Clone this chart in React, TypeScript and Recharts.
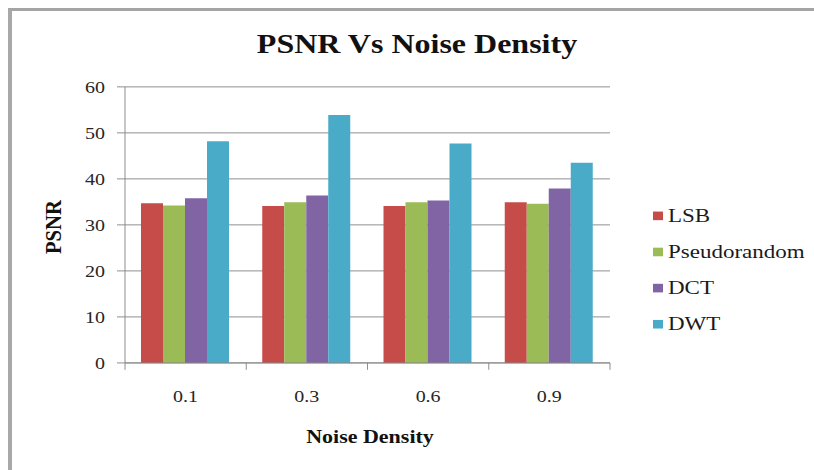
import { Bar, BarChart, CartesianGrid, Legend, XAxis, YAxis } from "recharts";

const CATEGORIES = ["0.1", "0.3", "0.6", "0.9"];
const LSB = [34.7, 34.1, 34.1, 34.9];
const PSEUDORANDOM = [34.2, 34.9, 34.9, 34.6];
const DCT = [35.8, 36.4, 35.3, 37.9];
const DWT = [48.2, 53.9, 47.7, 43.5];
const Y_TICKS = [0, 10, 20, 30, 40, 50, 60];

const SERIES = [
  { key: "lsb", name: "LSB", color: "#C64C49", values: LSB },
  { key: "pseudo", name: "Pseudorandom", color: "#9BBB56", values: PSEUDORANDOM },
  { key: "dct", name: "DCT", color: "#8064A4", values: DCT },
  { key: "dwt", name: "DWT", color: "#4AABC8", values: DWT },
];

const data = CATEGORIES.map((cat, i) => {
  const row: Record<string, string | number> = { density: cat };
  SERIES.forEach((s) => {
    row[s.key] = s.values[i];
  });
  return row;
});

const SERIF = '"Liberation Serif", "Times New Roman", serif';
const AXIS_COLOR = "#868686";
const TEXT_COLOR = "#262626";

// the old figure is squashed vertically, so draw tall and scale down
const SQUASH = 0.86;
const W = 814;
const H = Math.round(470 / SQUASH);

const X_TICK_SIZE = 8;
const X_TICK_MARGIN = 23;

// category label plus Excel-style tick marks between categories
function CategoryTick(props: any) {
  const { x, y, payload, index } = props;
  const half = payload?.offset ?? 0;
  const axisY = y - X_TICK_MARGIN - X_TICK_SIZE;
  const last = index === CATEGORIES.length - 1;
  return (
    <g>
      <line x1={x - half} x2={x - half} y1={axisY} y2={axisY + X_TICK_SIZE} stroke={AXIS_COLOR} />
      {last && (
        <line x1={x + half} x2={x + half} y1={axisY} y2={axisY + X_TICK_SIZE} stroke={AXIS_COLOR} />
      )}
      <text
        x={x}
        y={y}
        dy="0.71em"
        textAnchor="middle"
        fill={TEXT_COLOR}
        fontSize={20}
        fontFamily={SERIF}
      >
        {payload.value}
      </text>
    </g>
  );
}

const renderLegend = () => (
  <div style={{ fontFamily: SERIF, fontSize: 23, color: "#1a1a1a" }}>
    {SERIES.map((s) => (
      <div key={s.key} style={{ display: "flex", alignItems: "center", height: 42 }}>
        <span
          style={{ display: "inline-block", width: 10, height: 10, background: s.color, marginRight: 5 }}
        />
        {s.name}
      </div>
    ))}
  </div>
);

export default function App() {
  return (
    <div
      style={{
        position: "absolute",
        left: 0,
        top: 0,
        width: W,
        height: 470,
        overflow: "hidden",
        background: "#fff",
      }}
    >
      <div
        style={{
          position: "absolute",
          left: 8,
          top: 8,
          width: 900,
          height: 600,
          borderTop: "3px solid #a4a4a4",
          borderLeft: "4px solid #a8a8a8",
        }}
      />
      <div
        style={{
          position: "absolute",
          left: 0,
          top: 0,
          width: W,
          height: H,
          transform: `scaleY(${SQUASH})`,
          transformOrigin: "0 0",
        }}
      >
        <div
          style={{
            position: "absolute",
            left: 0,
            top: 35,
            width: 834,
            textAlign: "center",
            fontFamily: SERIF,
            fontWeight: "bold",
            fontSize: 32,
            lineHeight: "32px",
            color: "#111",
          }}
        >
          PSNR Vs Noise Density
        </div>
        <div
          style={{
            position: "absolute",
            left: 3,
            top: 252,
            width: 100,
            textAlign: "center",
            fontFamily: SERIF,
            fontWeight: "bold",
            fontSize: 24,
            lineHeight: "24px",
            color: "#111",
            transform: "rotate(-90deg)",
          }}
        >
          PSNR
        </div>
        <div
          style={{
            position: "absolute",
            left: 270,
            top: 497,
            width: 200,
            textAlign: "center",
            fontFamily: SERIF,
            fontWeight: "bold",
            fontSize: 22,
            lineHeight: "22px",
            color: "#111",
          }}
        >
          Noise Density
        </div>
        <BarChart
          width={W}
          height={H}
          data={data}
          margin={{ top: 101, right: 204, left: 65, bottom: 65 }}
          barCategoryGap={16}
          barGap={0}
        >
          <CartesianGrid vertical={false} stroke={AXIS_COLOR} />
          <XAxis
            dataKey="density"
            height={60}
            stroke={AXIS_COLOR}
            tickLine={false}
            tickSize={X_TICK_SIZE}
            tickMargin={X_TICK_MARGIN}
            tick={<CategoryTick />}
            interval={0}
          />
          <YAxis
            width={60}
            domain={[0, 60]}
            ticks={Y_TICKS}
            stroke={AXIS_COLOR}
            tickSize={8}
            tickMargin={12}
            tick={{ fill: TEXT_COLOR, fontSize: 20, fontFamily: SERIF }}
          />
          <Legend
            layout="vertical"
            align="center"
            verticalAlign="middle"
            wrapperStyle={{ left: 653, top: 230, width: 160 }}
            content={renderLegend}
          />
          {SERIES.map((s) => (
            <Bar key={s.key} dataKey={s.key} name={s.name} fill={s.color} isAnimationActive={false} />
          ))}
        </BarChart>
      </div>
    </div>
  );
}
